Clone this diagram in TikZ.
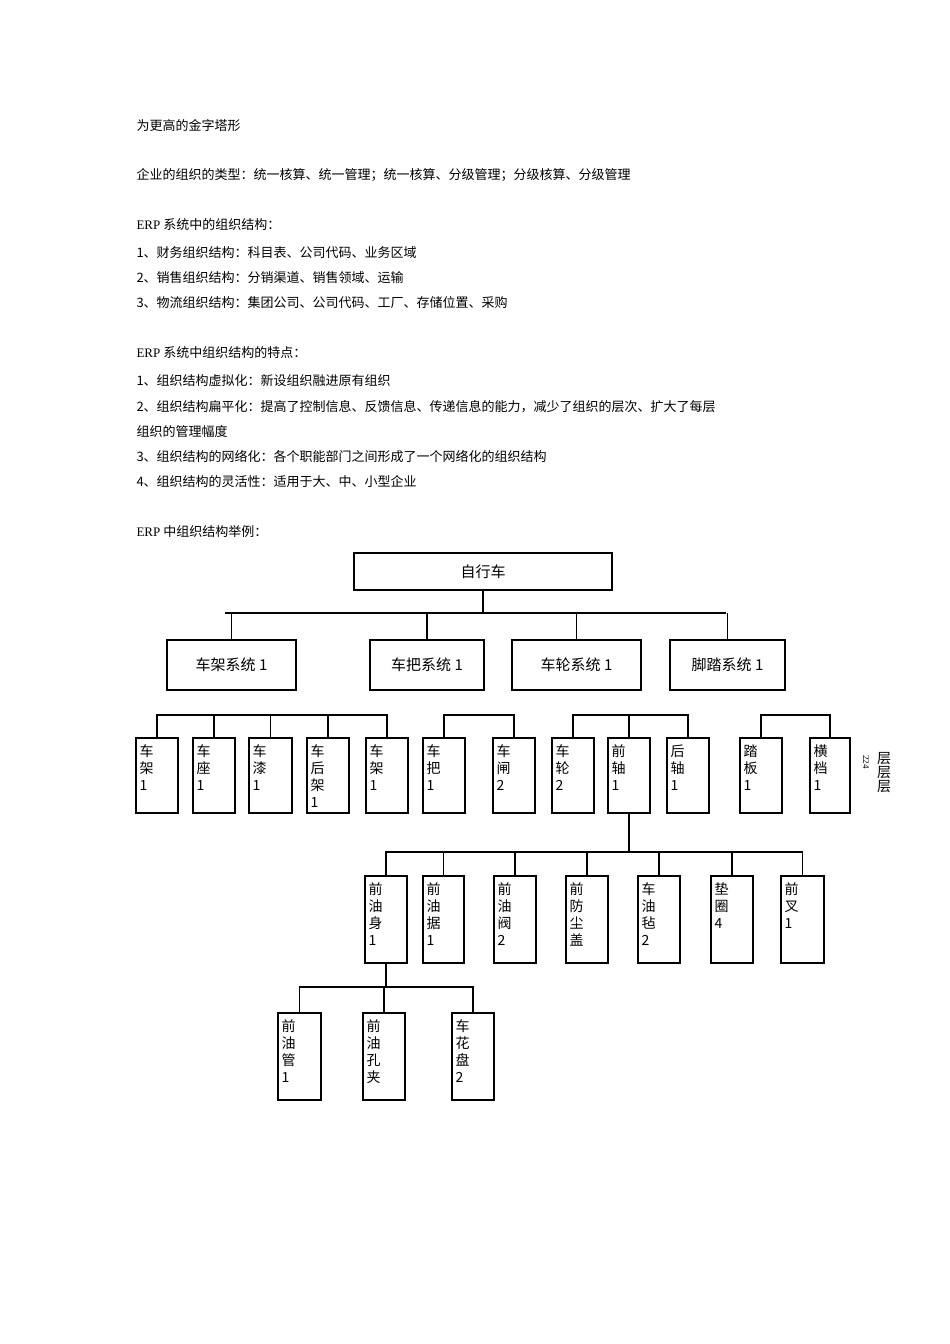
\documentclass[tikz,border=0pt]{standalone}
\usepackage{fontspec}
\setmainfont{Liberation Serif}
\newfontfamily\cjk{Noto Sans CJK SC}
\begin{document}
\begin{tikzpicture}[x=1pt,y=-1pt,
  bx/.style={draw,line width=1.2pt,inner sep=0pt},
  tx/.style={font=\cjk\fontsize{13}{14}\selectfont,anchor=west},
  lbl/.style={font=\cjk\fontsize{14}{17}\selectfont,align=left,anchor=north west,inner sep=0pt},
  ln/.style={line width=1.3pt}]
\useasboundingbox (0,0) rectangle (950,1344);
\foreach \y/\t in {126/为更高的金字塔形,
175/企业的组织的类型：统一核算、统一管理；统一核算、分级管理；分级核算、分级管理,
225/{\rmfamily ERP} 系统中的组织结构：,
253/1、财务组织结构：科目表、公司代码、业务区域,
278/2、销售组织结构：分销渠道、销售领域、运输,
303/3、物流组织结构：集团公司、公司代码、工厂、存储位置、采购,
353/{\rmfamily ERP} 系统中组织结构的特点：,
381/1、组织结构虚拟化：新设组织融进原有组织,
407/2、组织结构扁平化：提高了控制信息、反馈信息、传递信息的能力，减少了组织的层次、扩大了每层,
432/组织的管理幅度,
457/3、组织结构的网络化：各个职能部门之间形成了一个网络化的组织结构,
482/4、组织结构的灵活性：适用于大、中、小型企业,
532/{\rmfamily ERP} 中组织结构举例：}
  \node[tx] at (133,\y) {\t};
% top
\node[bx,minimum width=258pt,minimum height=37pt,font=\cjk\fontsize{15}{17}\selectfont] (root) at (483,571.5) {自行车};
\foreach \n/\x/\w/\t in {a/231.5/129/车架系统 1,b/427/114/车把系统 1,c/576.5/129/车轮系统 1,d/727.5/115/脚踏系统 1}
  \node[bx,minimum width=\w pt,minimum height=50pt,font=\cjk\fontsize{15}{17}\selectfont] (\n) at (\x,665) {\t};
\coordinate (j0) at (483,613);
\draw[ln] (root.south) -- (j0);
\draw[ln] (225,613) -- (726,613);
\foreach \n in {a,b,c,d} \draw[ln] (\n.north) -- (\n.north |- j0);
% level 2 boxes
\newcommand{\mybox}[6]{%
  \node[bx,minimum width=#3pt,minimum height=#4pt] (#1) at (#2) {};
  \node[lbl] at ([xshift=4pt,yshift=-7pt]#1.north west) {#5};
  \draw[ln] (#1.north) -- ++(0,-#6);}
\mybox{p1}{157,775.5}{42}{75}{车\\架\\1}{23}
\mybox{p2}{214,775.5}{42}{75}{车\\座\\1}{23}
\mybox{p3}{270.5,775.5}{43}{75}{车\\漆\\1}{23}
\mybox{p4}{328,775.5}{42}{75}{车\\后\\架\\1}{23}
\mybox{p5}{387,775.5}{42}{75}{车\\架\\1}{23}
\mybox{p6}{444,775.5}{42}{75}{车\\把\\1}{23}
\mybox{p7}{514,775.5}{42}{75}{车\\闸\\2}{23}
\mybox{p8}{573,775.5}{42}{75}{车\\轮\\2}{23}
\mybox{p9}{629,775.5}{42}{75}{前\\轴\\1}{23}
\mybox{p10}{688,775.5}{42}{75}{后\\轴\\1}{23}
\mybox{p11}{761,775.5}{42}{75}{踏\\板\\1}{23}
\mybox{p12}{830,775.5}{40}{75}{横\\档\\1}{23}
\draw[ln] (157,715) -- (387,715);
\draw[ln] (444,715) -- (514,715);
\draw[ln] (573,715) -- (688,715);
\draw[ln] (761,715) -- (830,715);
\node[font=\cjk\fontsize{14}{14}\selectfont,align=center,inner sep=0pt] (side) at (884,773) {层\\层\\层};
\node[font=\fontsize{9}{9}\selectfont,rotate=-90,inner sep=0pt] (num) at (866,762) {224};
% level 3
\coordinate (j1) at (629,852);
\draw[ln] (p9.south) -- (j1);
\draw[ln] (386,852) -- (802.5,852);
\mybox{q1}{386,919.5}{42}{87}{前\\油\\身\\1}{24}
\mybox{q2}{443.5,919.5}{41}{87}{前\\油\\据\\1}{24}
\mybox{q3}{515,919.5}{42}{87}{前\\油\\阀\\2}{24}
\mybox{q4}{587,919.5}{42}{87}{前\\防\\尘\\盖}{24}
\mybox{q5}{659,919.5}{42}{87}{车\\油\\毡\\2}{24}
\mybox{q6}{732,919.5}{42}{87}{垫\\圈\\4}{24}
\mybox{q7}{802.5,919.5}{43}{87}{前\\叉\\1}{24}
% level 4
\coordinate (j2) at (386,987);
\draw[ln] (q1.south) -- (j2);
\draw[ln] (299.5,987) -- (473,987);
\mybox{r1}{299.5,1056.5}{43}{87}{前\\油\\管\\1}{26}
\mybox{r2}{384,1056.5}{42}{87}{前\\油\\孔\\夹}{26}
\mybox{r3}{473,1056.5}{42}{87}{车\\花\\盘\\2}{26}
\end{tikzpicture}
\end{document}
